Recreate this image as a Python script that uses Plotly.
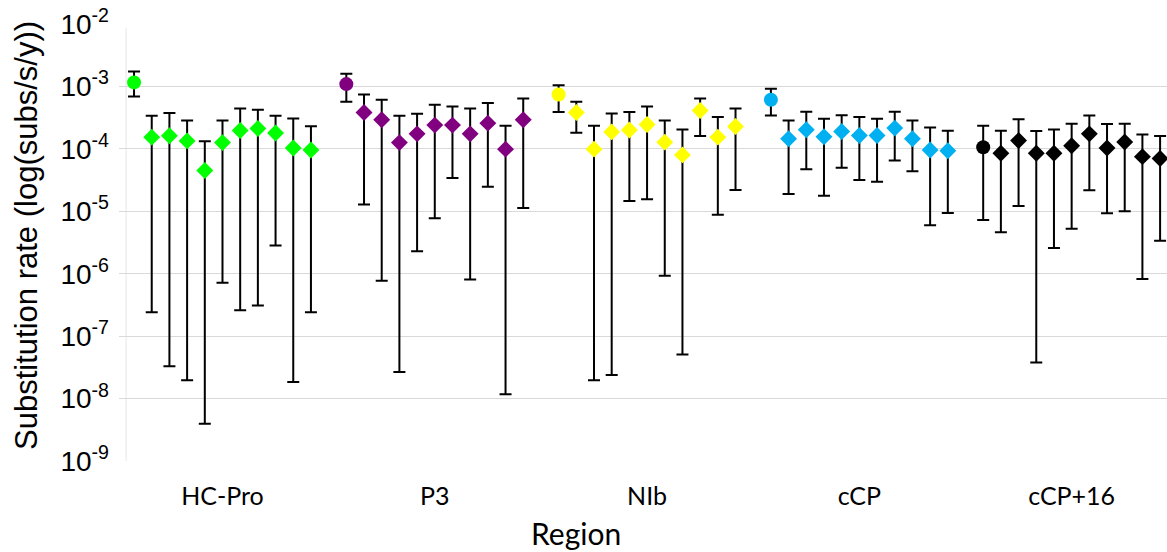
import plotly.graph_objects as go

regions = ["HC-Pro", "P3", "NIb", "cCP", "cCP+16"]
colors = ["#00FF00", "#800080", "#FFFF00", "#00B0F0", "#000000"]

hcpro_rate = [1.16e-3, 1.54e-4, 1.62e-4, 1.34e-4, 4.49e-5, 1.26e-4, 1.97e-4, 2.12e-4, 1.79e-4, 1.03e-4, 9.6e-5]
hcpro_upper = [1.74e-3, 3.39e-4, 3.74e-4, 2.85e-4, 1.33e-4, 2.85e-4, 4.44e-4, 4.23e-4, 3.39e-4, 3.06e-4, 2.31e-4]
hcpro_lower = [6.9e-4, 2.42e-7, 3.29e-8, 1.96e-8, 3.95e-9, 7.15e-7, 2.6e-7, 3.1e-7, 2.84e-6, 1.84e-8, 2.42e-7]

p3_rate = [1.09e-3, 3.83e-4, 2.92e-4, 1.26e-4, 1.74e-4, 2.4e-4, 2.4e-4, 1.74e-4, 2.58e-4, 9.9e-5, 2.92e-4]
p3_upper = [1.6e-3, 7.44e-4, 6.12e-4, 3.39e-4, 3.65e-4, 5.08e-4, 4.78e-4, 4.44e-4, 5.41e-4, 2.34e-4, 6.42e-4]
p3_lower = [5.67e-4, 1.29e-5, 7.69e-7, 2.66e-8, 2.28e-6, 7.7e-6, 3.42e-5, 8.1e-7, 2.48e-5, 1.17e-8, 1.13e-5]

nib_rate = [7.44e-4, 3.83e-4, 9.9e-5, 1.87e-4, 2.0e-4, 2.46e-4, 1.28e-4, 8.0e-5, 4.12e-4, 1.54e-4, 2.28e-4]
nib_upper = [1.04e-3, 5.67e-4, 2.34e-4, 3.69e-4, 3.88e-4, 4.78e-4, 2.85e-4, 2.04e-4, 6.42e-4, 3.23e-4, 4.44e-4]
nib_lower = [3.88e-4, 1.81e-4, 1.96e-8, 2.38e-8, 1.46e-5, 1.56e-5, 9.25e-7, 5.1e-8, 1.6e-4, 8.8e-6, 2.2e-5]

ccp_rate = [6.12e-4, 1.45e-4, 2.02e-4, 1.56e-4, 1.9e-4, 1.64e-4, 1.64e-4, 2.15e-4, 1.45e-4, 9.6e-5, 9.3e-5]
ccp_upper = [9.19e-4, 2.85e-4, 3.93e-4, 3.03e-4, 3.47e-4, 3.23e-4, 3.03e-4, 3.93e-4, 2.85e-4, 2.2e-4, 1.95e-4]
ccp_lower = [3.43e-4, 1.9e-5, 4.72e-5, 1.78e-5, 5.0e-5, 3.18e-5, 2.98e-5, 6.49e-5, 4.39e-5, 6.0e-6, 9.4e-6]

ccp16_rate = [1.06e-4, 8.5e-5, 1.36e-4, 8.5e-5, 8.5e-5, 1.12e-4, 1.74e-4, 1.03e-4, 1.29e-4, 7.5e-5, 7.0e-5]
ccp16_upper = [2.34e-4, 1.95e-4, 2.99e-4, 1.93e-4, 2.04e-4, 2.52e-4, 3.43e-4, 2.49e-4, 2.52e-4, 1.7e-4, 1.6e-4]
ccp16_lower = [7.24e-6, 4.6e-6, 1.22e-5, 3.77e-8, 2.58e-6, 5.26e-6, 2.17e-5, 9.3e-6, 1.0e-5, 8.2e-7, 3.37e-6]

y_tickvals = [1e-9, 1e-8, 1e-7, 1e-6, 1e-5, 1e-4, 1e-3, 1e-2]
y_ticktext = ["10<sup>-9</sup>", "10<sup>-8</sup>", "10<sup>-7</sup>", "10<sup>-6</sup>",
              "10<sup>-5</sup>", "10<sup>-4</sup>", "10<sup>-3</sup>", "10<sup>-2</sup>"]

series = [
    (hcpro_rate, hcpro_upper, hcpro_lower),
    (p3_rate, p3_upper, p3_lower),
    (nib_rate, nib_upper, nib_lower),
    (ccp_rate, ccp_upper, ccp_lower),
    (ccp16_rate, ccp16_upper, ccp16_lower),
]

fig = go.Figure()
group_step = 12
centers = []
for g, (rate, up, lo) in enumerate(series):
    n = len(rate)
    xs = [g * group_step + i for i in range(n)]
    centers.append(g * group_step + (n - 1) / 2)
    symbols = ["circle"] + ["diamond"] * (n - 1)
    sizes = [14] + [13] * (n - 1)
    fig.add_trace(go.Scatter(
        x=xs, y=rate, mode="markers", name=regions[g], showlegend=False,
        marker=dict(symbol=symbols, size=sizes, color=colors[g], opacity=1, line=dict(width=0)),
        error_y=dict(type="data", symmetric=False,
                     array=[u - r for u, r in zip(up, rate)],
                     arrayminus=[r - l for r, l in zip(rate, lo)],
                     color="#000000", thickness=2, width=6),
    ))

fig.add_shape(type="line", xref="x", yref="paper", x0=-0.45, x1=-0.45, y0=0, y1=0.99,
              line=dict(color="#e6e6e6", width=1), layer="below")

fig.add_annotation(text="Substitution rate (log(subs/s/y))", xref="paper", yref="paper",
                   x=(27 - 119) / 1048, y=0.515, xanchor="center", yanchor="middle",
                   textangle=-90, showarrow=False,
                   font=dict(family="Liberation Sans, Arial, sans-serif", size=31, color="#000000"))
fig.add_annotation(text="Region", xref="paper", yref="paper",
                   x=(576 - 119) / 1048, y=(461 - 533) / 437, xanchor="center", yanchor="middle",
                   showarrow=False,
                   font=dict(family="Lato, sans-serif", size=30, color="#000000"))

fig.update_layout(
    width=1167, height=552,
    margin=dict(l=119, r=0, t=24, b=91, pad=0),
    paper_bgcolor="white", plot_bgcolor="white",
    font=dict(family="Liberation Sans, Arial, sans-serif", color="#000000"),
    xaxis=dict(
        range=[-0.85, 58.39], showgrid=False, zeroline=False, showline=False,
        tickmode="array", tickvals=centers, ticktext=regions, ticks="",
        tickfont=dict(family="Lato, sans-serif", size=25, color="#000000"),
        ticklabelstandoff=18, automargin=False,
    ),
    yaxis=dict(
        type="log", range=[-9, -2], showgrid=True, gridcolor="#d9d9d9", gridwidth=1,
        zeroline=False, showline=False, tickmode="array",
        tickvals=y_tickvals, ticktext=y_ticktext, ticks="",
        tickfont=dict(family="Liberation Sans, Arial, sans-serif", size=28, color="#000000"),
        ticklabelstandoff=9, automargin=False,
    ),
)

fig.write_html("out.html", config={"displayModeBar": False},
               post_script="document.body.style.margin='0';document.body.style.overflow='hidden';")
